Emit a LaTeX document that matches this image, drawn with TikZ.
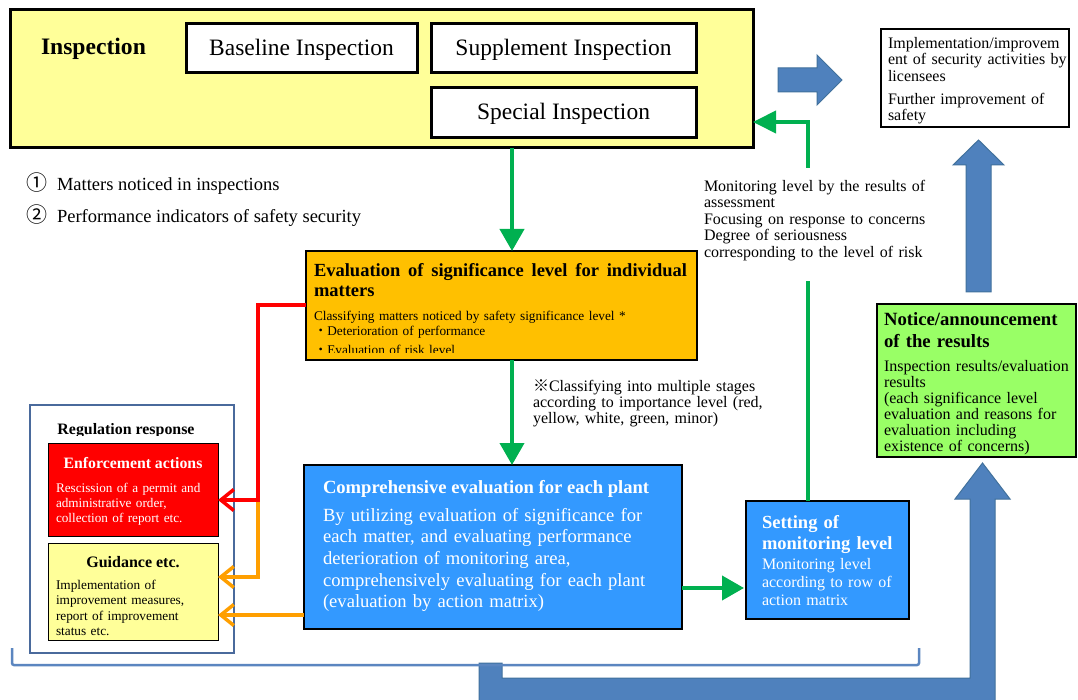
\documentclass[tikz,border=0pt]{standalone}
\usepackage{fontspec}
\setmainfont{Liberation Serif}
\newfontfamily\cjk{Noto Sans CJK JP}
\usetikzlibrary{arrows.meta}
\definecolor{colInsp}{HTML}{FFFF99}
\definecolor{colOrange}{HTML}{FFC000}
\definecolor{colBlue}{HTML}{3399FF}
\definecolor{colArrow}{HTML}{4F81BD}
\definecolor{colArrowEdge}{HTML}{41719C}
\definecolor{colGreen}{HTML}{99FF66}
\definecolor{colGreenLine}{HTML}{00B050}
\definecolor{colOrangeLine}{HTML}{FF9F00}
\definecolor{colReg}{HTML}{4A6A9C}
\definecolor{colBracket}{HTML}{5B86C0}
\newcommand{\fsz}[2]{\fontsize{#1pt}{#2pt}\selectfont}
\begin{document}
\begin{tikzpicture}[x=1pt,y=-1pt,
  bx/.style={draw=black, anchor=north west, inner sep=0pt, outer sep=0pt},
  inbox/.style={bx, fill=white, line width=3pt, font=\fsz{23.5}{26}, text height=19pt, text depth=5pt},
  tx/.style={inner sep=0pt, outer sep=0pt, anchor=base west, align=left},
  gline/.style={draw=colGreenLine, line width=4pt},
  garrow/.style={gline, -{Triangle[length=22pt,width=24pt]}},
  rline/.style={draw=red, line width=4pt},
  oline/.style={draw=colOrangeLine, line width=4pt},
  chev/.style={-{Straight Barb[length=13pt,width=21pt,line width=3.5pt]}},
  barrow/.style={fill=colArrow, draw=colArrowEdge, line width=1pt},
]
\useasboundingbox (0,0) rectangle (1078,700);
\fill[white] (0,0) rectangle (1078,700);

% ---------- Inspection block
\node[bx, fill=colInsp, line width=3pt, minimum width=743pt, minimum height=138pt] (insp) at (10,10) {};
\node[tx, font=\bfseries\fsz{23.6}{26}] (inspT) at (41,55) {Inspection};
\node[inbox, minimum width=231pt, minimum height=49pt] (basebox) at (186,24) {Baseline Inspection};
\node[inbox, minimum width=265pt, minimum height=49pt] (supbox) at (431,24) {Supplement Inspection};
\node[inbox, minimum width=265pt, minimum height=50pt] (spebox) at (431,88) {Special Inspection};

% ---------- top right
\node[bx, fill=white, line width=1.2pt, minimum width=188pt, minimum height=98pt] (trbox) at (881,29) {};
\node[tx, text width=184pt, font=\fsz{16}{16.5}] (trT) at (888,48.5) {Implementation/improvem\\ent of security activities by\\licensees\\[6.5pt]Further improvement of\\safety};

% ---------- circled items
\node[tx, font=\fsz{18.5}{20}] (c1) at (26,191) {\makebox[31pt][l]{\cjk\fsz{21}{21}①}Matters noticed in inspections};
\node[tx, font=\fsz{18.5}{20}] (c2) at (26,223) {\makebox[31pt][l]{\cjk\fsz{21}{21}②}Performance indicators of safety security};

% ---------- monitoring text
\node[tx, text width=225pt, font=\fsz{16}{16.4}] (monT) at (704,191.5) {Monitoring level by the results of\\assessment\\Focusing on response to concerns\\Degree of seriousness\\corresponding to the level of risk};

% ---------- evaluation of significance
\node[bx, fill=colOrange, line width=1.5pt, minimum width=391pt, minimum height=109pt] (eval) at (306,251) {};
\node[tx, text width=376pt, font=\bfseries\fsz{18.5}{20}] (evalT) at (314,277) {\hbox to 373pt{Evaluation\hfill of\hfill significance\hfill level\hfill for\hfill individual}\\matters};
\begin{scope}
\clip (306,251) rectangle (697,352.5);
\node[tx, text width=380pt, font=\fsz{13.3}{15.5}] (evalB) at (314,320) {Classifying matters noticed by safety significance level *\\{\cjk ・}Deterioration of performance\\[3.5pt]{\cjk ・}Evaluation of risk level};
\end{scope}

% ---------- note
\node[tx, text width=240pt, font=\fsz{16}{16.2}] (noteT) at (533,391.5) {{\cjk ※}Classifying into multiple stages\\according to importance level (red,\\yellow, white, green, minor)};

% ---------- regulation response
\node[bx, draw=colReg, fill=white, line width=2.5pt, minimum width=204pt, minimum height=248pt] (reg) at (30,405) {};
\begin{scope}
\clip (30,405) rectangle (234,435.5);
\node[tx, anchor=base, font=\bfseries\fsz{15.9}{18}] (regT) at (126,434) {Regulation response};
\end{scope}
\node[bx, fill=red, line width=1pt, minimum width=170pt, minimum height=93pt] (enf) at (48,443) {};
\node[tx, anchor=base, text=white, font=\bfseries\fsz{15.8}{18}] (enfT) at (133,468) {Enforcement actions};
\node[tx, text=white, text width=160pt, font=\fsz{13.2}{15.2}] (enfB) at (56,492) {Rescission of a permit and\\administrative order,\\collection of report etc.};
\node[bx, fill=colInsp, line width=1pt, minimum width=170pt, minimum height=97pt] (guid) at (48,543) {};
\node[tx, anchor=base, font=\bfseries\fsz{16}{18}] (guidT) at (133,567) {Guidance etc.};
\node[tx, text width=160pt, font=\fsz{13.3}{15.3}] (guidB) at (56,589.5) {Implementation of\\improvement measures,\\report of improvement\\status etc.};

% ---------- comprehensive evaluation
\node[bx, fill=colBlue, line width=1.5pt, minimum width=378pt, minimum height=164pt] (comp) at (304,465) {};
\node[tx, text=white, font=\bfseries\fsz{18.6}{21}] (compT) at (323,493) {Comprehensive evaluation for each plant};
\node[tx, text=white, text width=356pt, font=\fsz{18.6}{21.7}] (compB) at (323,521) {By utilizing evaluation of significance for\\each matter, and evaluating performance\\deterioration of monitoring area,\\comprehensively evaluating for each plant\\(evaluation by action matrix)};

% ---------- setting of monitoring level
\node[bx, fill=colBlue, line width=1.5pt, minimum width=163pt, minimum height=118pt] (sett) at (746,501) {};
\node[tx, text=white, text width=150pt, font=\bfseries\fsz{18.5}{21.5}] (settT) at (762,528) {Setting of\\monitoring level};
\node[tx, text=white, text width=150pt, font=\fsz{16}{18.3}] (settB) at (762,569) {Monitoring level\\according to row of\\action matrix};

% ---------- notice
\node[bx, fill=colGreen, line width=1.5pt, minimum width=199pt, minimum height=153pt] (notice) at (877,304) {};
\node[tx, text width=192pt, font=\bfseries\fsz{18.7}{22}] (notT) at (884,326) {Notice/announcement\\of the results};
\node[tx, text width=192pt, font=\fsz{16}{15.9}] (notB) at (884,371.5) {Inspection results/evaluation\\results\\(each significance level\\evaluation and reasons for\\evaluation including\\existence of concerns)};

% ---------- block arrows
\draw[barrow] (778,68) -- (817,68) -- (817,55) -- (842,80) -- (817,105) -- (817,92) -- (778,92) -- cycle;
\draw[barrow] (966,292) -- (966,165) -- (953,165) -- (978.5,140) -- (1004,165) -- (991,165) -- (991,292) -- cycle;
\draw[barrow] (479,663) -- (502,663) -- (502,678) -- (970,678) -- (970,499) -- (955,499) -- (982.5,463) -- (1010,499) -- (995,499) -- (995,705) -- (479,705) -- cycle;
\draw[colBracket, line width=2.5pt, rounded corners=2pt] (12,648) -- (12,665) -- (919,665) -- (919,648);

% ---------- green connectors
\coordinate (gx) at (512,0);
\draw[garrow] (gx |- insp.south) -- (gx |- eval.north);
\draw[garrow] (gx |- eval.south) -- (gx |- comp.north);
\coordinate (gy) at (0,588);
\draw[garrow, shorten >=2pt] (comp.east |- gy) -- (sett.west |- gy);
\coordinate (gA) at (808,281);
\coordinate (gB) at (808,168);
\coordinate (gC) at (0,122);
\draw[gline] (gA |- sett.north) -- (gA);
\draw[gline, -{Triangle[length=23pt,width=22pt]}] (gB) |- (insp.east |- gC);

% ---------- red / orange connectors
\coordinate (rj) at (258,500);
\coordinate (oA) at (258,577);
\coordinate (oB) at (0,615);
\draw[oline, chev] (rj) -- (oA) -- (oA -| guid.east);
\draw[oline, chev] (comp.west |- oB) -- (guid.east |- oB);
\draw[rline, chev] (eval.west) -| (rj) -- (rj -| enf.east);
\end{tikzpicture}
\end{document}
